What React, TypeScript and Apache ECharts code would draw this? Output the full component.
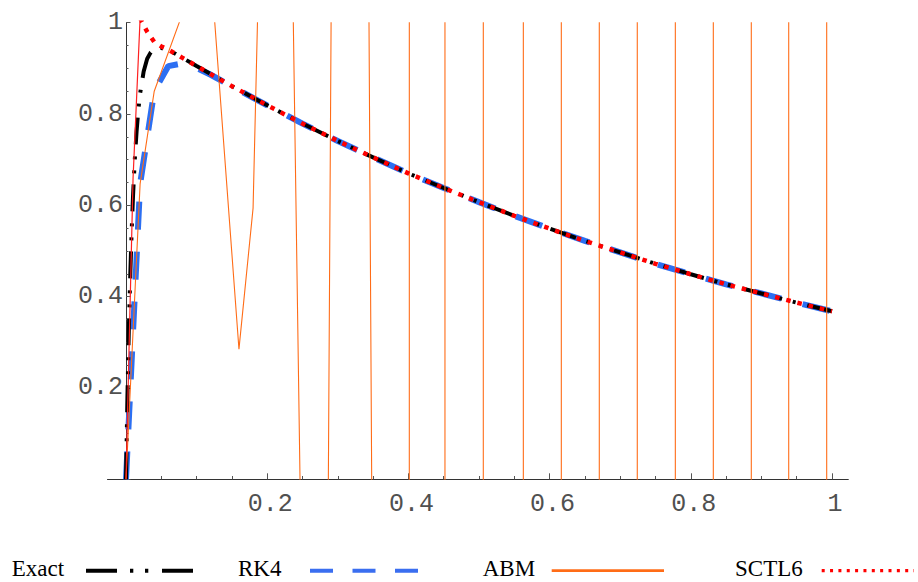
import React, { useEffect, useRef } from 'react';
import * as echarts from 'echarts';

// Exact solution
const exactX = [0, 0.002, 0.004, 0.006, 0.008, 0.01, 0.0125, 0.015, 0.0175, 0.02, 0.025, 0.03, 0.035, 0.04, 0.045, 0.05, 0.06, 0.07, 0.08, 0.1,
  0.15, 0.2, 0.25, 0.3, 0.35, 0.4, 0.45, 0.5, 0.55, 0.6, 0.65, 0.7, 0.75, 0.8, 0.85, 0.9, 0.95, 1.0];
const exactY = [0, 0.179, 0.326, 0.445, 0.543, 0.622, 0.701, 0.762, 0.809, 0.845, 0.893, 0.921, 0.935, 0.942, 0.945, 0.945, 0.939, 0.932, 0.923, 0.905,
  0.861, 0.819, 0.779, 0.741, 0.705, 0.670, 0.638, 0.607, 0.577, 0.549, 0.522, 0.497, 0.472, 0.449, 0.427, 0.407, 0.387, 0.368];

// RK4
const rk4X = [0, 0.02, 0.04, 0.06, 0.08, 0.1, 0.12, 0.14, 0.16, 0.2, 0.25, 0.3, 0.35, 0.4, 0.45, 0.5, 0.55, 0.6, 0.65, 0.7, 0.75, 0.8, 0.85, 0.9, 0.95, 1.0];
const rk4Y = [0, 0.647, 0.850, 0.905, 0.911, 0.901, 0.886, 0.869, 0.852, 0.819, 0.779, 0.741, 0.705, 0.670, 0.638, 0.607, 0.577, 0.549, 0.522, 0.497, 0.472, 0.449, 0.427, 0.407, 0.387, 0.368];

// ABM (unstable, oscillating far outside the plot range)
const abmX = [0, 0.02, 0.04, 0.08, 0.12, 0.16, 0.18, 0.2, 0.2275, 0.275, 0.306, 0.3176, 0.3936, 0.4008, 0.4018, 0.4513, 0.4523, 0.5056, 0.5066,
  0.5623, 0.5633, 0.6161, 0.6171, 0.6699, 0.6709, 0.7237, 0.7247, 0.7776, 0.7786, 0.8314, 0.8324, 0.8852, 0.8862, 0.9382, 0.9392, 0.992, 0.993, 1.0];
const abmY = [0, 0.647, 0.850, 1.02, 1.12, 0.285, 0.594, 1.9, 2.0, -3.0, 5.0, 8.0, -12.0, -50, 50, 80, -80, -130, 130,
  200, -200, -300, 300, 450, -450, -700, 700, 1000, -1000, -1500, 1500, 2300, -2300, -3500, 3500, 5000, -5000, -6000];

// SCTL6
const sctlX = [0, 0.01, 0.02, 0.03, 0.04, 0.05, 0.06, 0.08, 0.1, 0.15, 0.2, 0.25, 0.3, 0.35, 0.4, 0.45, 0.5, 0.55, 0.6, 0.65, 0.7, 0.75, 0.8, 0.85, 0.9, 0.95, 1.0];
const sctlY = [0, 0.66, 1.01, 0.98, 0.958, 0.948, 0.941, 0.923, 0.905, 0.861, 0.819, 0.779, 0.741, 0.705, 0.670, 0.638, 0.607, 0.577, 0.549, 0.522, 0.497, 0.472, 0.449, 0.427, 0.407, 0.387, 0.368];

const xTickLabels = ['0.2', '0.4', '0.6', '0.8', '1'];
const yTickLabels = ['0.2', '0.4', '0.6', '0.8', '1'];
const legendNames = ['Exact', 'RK4', 'ABM', 'SCTL6'];

const zip = (xs: number[], ys: number[]) => xs.map((x, i) => [x, ys[i]]);

const fmt = (list: string[]) => (v: number) => {
  const s = String(Math.round(v * 1000) / 1000);
  return list.includes(s) ? s : '';
};

export default function App() {
  const ref = useRef<HTMLDivElement>(null);
  useEffect(() => {
    if (!ref.current) return;
    const chart = echarts.init(ref.current, undefined, { renderer: 'svg' });
    const monoLabel = {
      fontFamily: '"Liberation Mono", monospace',
      fontSize: 25,
      color: '#505050',
    };
    const legendFont = '23px "Liberation Serif", serif';
    const ly = 570.7;
    const ty = 568;
    const sctlData = zip(sctlX, sctlY);
    chart.setOption({
      animation: false,
      backgroundColor: '#ffffff',
      grid: [
        { left: 107.5, right: 69.7, top: 22.7, bottom: 102.7 },
        { left: 126, right: 86, top: 22.7, bottom: 102.7 },
      ],
      xAxis: [
        {
          gridIndex: 0, type: 'value', min: -0.0262, max: 1.0231,
          axisLine: { show: true, onZero: false, lineStyle: { color: '#333', width: 1 } },
          axisTick: { show: false }, axisLabel: { show: false }, splitLine: { show: false },
        },
        {
          gridIndex: 1, type: 'value', min: 0, max: 1, interval: 0.2,
          axisLine: { show: false },
          axisTick: { show: true, inside: true, length: 6, lineStyle: { color: '#555' } },
          minorTick: { show: true, splitNumber: 4, length: 3.3, lineStyle: { color: '#555' } },
          axisLabel: { ...monoLabel, margin: 13, padding: [0, 0, 0, 6], formatter: fmt(xTickLabels) },
          splitLine: { show: false },
        },
      ],
      yAxis: [
        { gridIndex: 0, type: 'value', min: 0, max: 1, show: false },
        {
          gridIndex: 1, type: 'value', min: 0, max: 1, interval: 0.2,
          axisLine: { show: true, onZero: false, lineStyle: { color: '#333', width: 1 } },
          axisTick: { show: true, inside: true, length: 4.5, lineStyle: { color: '#555' } },
          minorTick: { show: true, splitNumber: 4, length: 2.5, lineStyle: { color: '#555' } },
          axisLabel: { ...monoLabel, margin: 3, formatter: fmt(yTickLabels) },
          splitLine: { show: false },
        },
      ],
      series: [
        {
          name: legendNames[1], type: 'line', xAxisIndex: 0, yAxisIndex: 0, data: zip(rk4X, rk4Y),
          showSymbol: false, symbol: 'none', clip: true,
          lineStyle: { color: '#2c6ff2', width: 6, type: [28, 22], cap: 'butt' },
        },
        {
          name: legendNames[0], type: 'line', xAxisIndex: 0, yAxisIndex: 0, data: zip(exactX, exactY),
          showSymbol: false, symbol: 'none', clip: true,
          lineStyle: { color: '#000', width: 4, type: [27, 11, 3, 11, 3, 12], cap: 'butt' },
        },
        {
          name: legendNames[2], type: 'line', xAxisIndex: 0, yAxisIndex: 0, data: zip(abmX, abmY),
          showSymbol: false, symbol: 'none', clip: true,
          lineStyle: { color: '#ff6c17', width: 1.1 },
        },
        {
          name: legendNames[3] + ' start', type: 'line', xAxisIndex: 0, yAxisIndex: 0, data: sctlData.slice(0, 3),
          showSymbol: false, symbol: 'none', clip: true,
          lineStyle: { color: '#ff2020', width: 1.2 },
        },
        {
          name: legendNames[3], type: 'line', xAxisIndex: 0, yAxisIndex: 0, data: sctlData.slice(2),
          showSymbol: false, symbol: 'none', clip: true,
          lineStyle: { color: '#ff0000', width: 4.5, type: [4.5, 7], cap: 'butt' },
        },
      ],
      graphic: [
        { type: 'text', x: 11.7, y: ty, style: { text: legendNames[0], font: legendFont, fill: '#000', align: 'left', verticalAlign: 'middle' } },
        { type: 'line', shape: { x1: 86, y1: ly, x2: 193, y2: ly }, style: { stroke: '#000', lineWidth: 4, lineDash: [31, 13, 3.3, 11.7, 3.3, 13.7] } },
        { type: 'text', x: 238, y: ty, style: { text: legendNames[1], font: legendFont, fill: '#000', align: 'left', verticalAlign: 'middle' } },
        { type: 'line', shape: { x1: 310, y1: ly, x2: 418, y2: ly }, style: { stroke: '#3a6ef0', lineWidth: 4, lineDash: [23, 19.5] } },
        { type: 'text', x: 482.7, y: ty, style: { text: legendNames[2], font: legendFont, fill: '#000', align: 'left', verticalAlign: 'middle' } },
        { type: 'line', shape: { x1: 551.7, y1: ly, x2: 664, y2: ly }, style: { stroke: '#ff6c17', lineWidth: 2.7 } },
        { type: 'text', x: 735, y: ty, style: { text: legendNames[3], font: legendFont, fill: '#000', align: 'left', verticalAlign: 'middle' } },
        { type: 'line', shape: { x1: 821.7, y1: ly, x2: 914, y2: ly }, style: { stroke: '#ff0000', lineWidth: 3.3, lineDash: [3, 5.35] } },
      ],
    });
    return () => chart.dispose();
  }, []);
  return <div ref={ref} style={{ position: 'fixed', left: 0, top: 0, width: 918, height: 582 }} />;
}
